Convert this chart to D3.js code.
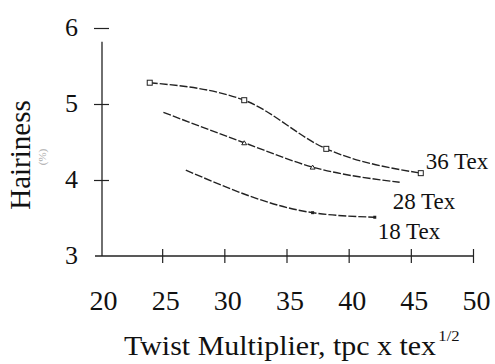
<!DOCTYPE html>
<html>
<head>
<meta charset="utf-8">
<script src="https://cdn.jsdelivr.net/npm/d3@7"></script>
<style>
  body { margin: 0; background: #fff; }
  svg text { font-family: "Liberation Serif", "DejaVu Serif", "Times New Roman", Times, serif; fill: #111; }
</style>
</head>
<body>
<div id="chart"></div>
<script>
// hairiness vs twist multiplier
var tex36_x = [24.0, 31.6, 38.2, 45.8];
var tex36_y = [5.28, 5.05, 4.41, 4.09];
var tex28_x = [25.1, 31.6, 37.1, 44.1];
var tex28_y = [4.89, 4.49, 4.17, 3.97];
var tex18_x = [26.9, 37.1, 42.1];
var tex18_y = [4.13, 3.57, 3.51];
var seriesNames = ["36 Tex", "28 Tex", "18 Tex"];

var xTicks = [20, 25, 30, 35, 40, 45, 50];
var yTicks = [3, 4, 5, 6];

var width = 495, height = 364;

var svg = d3.select("#chart").append("svg")
    .attr("width", width)
    .attr("height", height);

var x = d3.scaleLinear().domain([20, 50]).range([100, 473]);
var y = d3.scaleLinear().domain([3, 6]).range([256, 28]);

// x axis
var xAxis = svg.append("g")
    .attr("transform", "translate(0," + y(3) + ")")
    .call(d3.axisBottom(x).tickValues(xTicks).tickFormat(d3.format("d")).tickSize(7).tickSizeOuter(0));
xAxis.attr("font-family", null);
xAxis.select(".domain").attr("d", "M" + (x(20) - 5) + ",0H" + x(50)).attr("stroke", "#222").attr("stroke-width", 1.3);
xAxis.selectAll(".tick line").attr("y1", -7).attr("y2", 7).attr("stroke", "#222").attr("stroke-width", 1.2);
xAxis.selectAll(".tick").filter(function(d) { return d === 20; }).select("line").remove();
xAxis.selectAll(".tick text")
    .attr("y", 54).attr("dy", 0).attr("dx", 3)
    .attr("font-size", 28);

// y axis
var yAxis = svg.append("g")
    .attr("transform", "translate(" + 102 + ",0)")
    .call(d3.axisLeft(y).tickValues(yTicks).tickFormat(d3.format("d")).tickSize(8).tickSizeOuter(0));
yAxis.attr("font-family", null);
yAxis.select(".domain").attr("d", "M0," + y(5.82) + "V" + y(3)).attr("stroke", "#222").attr("stroke-width", 1.3);
yAxis.selectAll(".tick line").attr("x1", -8).attr("x2", 7).attr("stroke", "#222").attr("stroke-width", 1.2);
yAxis.selectAll(".tick").filter(function(d) { return d === 3; }).select("line").remove();
yAxis.selectAll(".tick text")
    .attr("x", -24).attr("dy", "0.3em")
    .attr("font-size", 26);

// curves
var line = d3.line()
    .x(function(d) { return x(d[0]); })
    .y(function(d) { return y(d[1]); })
    .curve(d3.curveMonotoneX);

var series = [
    d3.zip(tex36_x, tex36_y),
    d3.zip(tex28_x, tex28_y),
    d3.zip(tex18_x, tex18_y)
];

series.forEach(function(pts, i) {
    svg.append("path")
        .attr("d", line(pts))
        .attr("fill", "none")
        .attr("stroke", "#222")
        .attr("stroke-width", 1.4)
        .attr("stroke-dasharray", "8,2");
});

// markers
svg.selectAll(".m36").data(series[0]).enter().append("rect")
    .attr("x", function(d) { return x(d[0]) - 2.5; })
    .attr("y", function(d) { return y(d[1]) - 2.5; })
    .attr("width", 5).attr("height", 5)
    .attr("fill", "#fff").attr("stroke", "#222").attr("stroke-width", 1);
svg.selectAll(".m28").data(series[1].slice(1, 3)).enter().append("path")
    .attr("d", function(d) { return "M" + (x(d[0]) - 2.5) + "," + (y(d[1]) + 2) + "l2.5,-4l2.5,4z"; })
    .attr("fill", "#fff").attr("stroke", "#222").attr("stroke-width", 1);
svg.selectAll(".m18").data(series[2].slice(1)).enter().append("rect")
    .attr("x", function(d) { return x(d[0]) - 1.5; })
    .attr("y", function(d) { return y(d[1]) - 1.5; })
    .attr("width", 3).attr("height", 3)
    .attr("fill", "#222");

// series labels, placed next to each line's end
var labelOffsets = [[5, -4], [-7, 27], [3, 22]];
series.forEach(function(pts, i) {
    var last = pts[pts.length - 1];
    svg.append("text")
        .attr("x", x(last[0]) + labelOffsets[i][0])
        .attr("y", y(last[1]) + labelOffsets[i][1])
        .attr("font-size", 23)
        .text(seriesNames[i]);
});

// axis titles (the scan is a bit wider than the font, hence the x stretch)
var xt = svg.append("text")
    .attr("transform", "translate(124,355) scale(1.11,1)")
    .attr("font-size", 27);
xt.append("tspan").text("Twist Multiplier, tpc x tex");
xt.append("tspan").attr("dy", -14).attr("dx", 2).attr("font-size", 15).text("1/2");

svg.append("text")
    .attr("transform", "translate(30,155) rotate(-90)")
    .attr("text-anchor", "middle")
    .attr("font-size", 29)
    .text("Hairiness");
svg.append("text")
    .attr("transform", "translate(46,157) rotate(-90)")
    .attr("text-anchor", "middle")
    .attr("font-size", 11)
    .style("fill", "#aaa")
    .text("(%)");
</script>
</body>
</html>
